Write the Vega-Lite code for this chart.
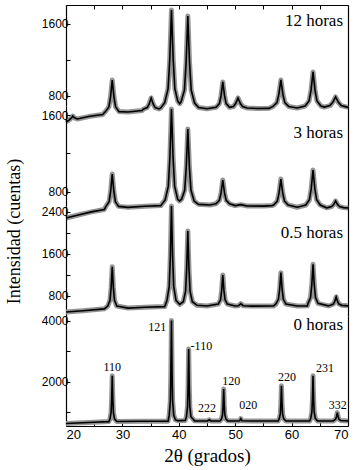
{
"$schema": "https://vega.github.io/schema/vega-lite/v6.json",
"padding": {"left": 4, "top": 4, "right": 2, "bottom": 2},
"bounds": "flush",
"spacing": 0,
"background": "white",
"config": {"view": {"stroke": null}, "axis": {"domainColor": "black", "domainWidth": 1.2, "tickColor": "black", "labelColor": "black", "labelFont": "Liberation Sans", "labelFontSize": 12, "grid": false, "titleFont": "Liberation Serif", "titleFontWeight": "normal", "titleColor": "black"}},
"datasets": {
"xrd": [
{"p":"12","x":20,"y":512},{"p":"12","x":20.6,"y":535},{"p":"12","x":21.0,"y":560},{"p":"12","x":21.2,"y":578},{"p":"12","x":21.5,"y":558},{"p":"12","x":22.0,"y":545},{"p":"12","x":24,"y":572},{"p":"12","x":26.5,"y":595},{"p":"12","x":27.0,"y":627},{"p":"12","x":27.6,"y":679},{"p":"12","x":27.9,"y":791},{"p":"12","x":28.2,"y":977},{"p":"12","x":28.5,"y":791},{"p":"12","x":28.8,"y":679},{"p":"12","x":29.4,"y":627},{"p":"12","x":31,"y":622},{"p":"12","x":33.5,"y":638},{"p":"12","x":33.7,"y":653},{"p":"12","x":34.4,"y":672},{"p":"12","x":34.75,"y":712},{"p":"12","x":35.1,"y":778},{"p":"12","x":35.45,"y":712},{"p":"12","x":35.8,"y":672},{"p":"12","x":36.5,"y":656},{"p":"12","x":36.8,"y":668},{"p":"12","x":37.5,"y":725},{"p":"12","x":38.1,"y":882},{"p":"12","x":38.4,"y":1208},{"p":"12","x":38.7,"y":1752},{"p":"12","x":39.0,"y":1208},{"p":"12","x":39.3,"y":882},{"p":"12","x":39.8,"y":745},{"p":"12","x":40.15,"y":715},{"p":"12","x":40.4,"y":735},{"p":"12","x":41.0,"y":865},{"p":"12","x":41.3,"y":1173},{"p":"12","x":41.6,"y":1686},{"p":"12","x":41.9,"y":1173},{"p":"12","x":42.2,"y":865},{"p":"12","x":42.8,"y":722},{"p":"12","x":43.5,"y":672},{"p":"12","x":45,"y":658},{"p":"12","x":46.6,"y":674},{"p":"12","x":47.2,"y":716},{"p":"12","x":47.5,"y":806},{"p":"12","x":47.8,"y":955},{"p":"12","x":48.1,"y":806},{"p":"12","x":48.4,"y":716},{"p":"12","x":49.0,"y":674},{"p":"12","x":49.7,"y":684},{"p":"12","x":50.1,"y":719},{"p":"12","x":50.5,"y":778},{"p":"12","x":50.9,"y":719},{"p":"12","x":51.3,"y":684},{"p":"12","x":52.1,"y":667},{"p":"12","x":54,"y":662},{"p":"12","x":56,"y":663},{"p":"12","x":56.7,"y":684},{"p":"12","x":57.4,"y":727},{"p":"12","x":57.75,"y":821},{"p":"12","x":58.1,"y":977},{"p":"12","x":58.45,"y":821},{"p":"12","x":58.8,"y":727},{"p":"12","x":59.5,"y":684},{"p":"12","x":61,"y":667},{"p":"12","x":62.4,"y":689},{"p":"12","x":63.1,"y":745},{"p":"12","x":63.45,"y":865},{"p":"12","x":63.8,"y":1066},{"p":"12","x":64.15,"y":865},{"p":"12","x":64.5,"y":745},{"p":"12","x":65.2,"y":689},{"p":"12","x":65.8,"y":677},{"p":"12","x":66.8,"y":694},{"p":"12","x":67.3,"y":730},{"p":"12","x":67.8,"y":789},{"p":"12","x":68.3,"y":730},{"p":"12","x":68.8,"y":694},{"p":"12","x":69.8,"y":677},{"p":"12","x":70,"y":678},
{"p":"3","x":20,"y":526},{"p":"3","x":22,"y":555},{"p":"3","x":24.5,"y":590},{"p":"3","x":26.8,"y":615},{"p":"3","x":27.08,"y":647},{"p":"3","x":27.64,"y":697},{"p":"3","x":27.92,"y":805},{"p":"3","x":28.2,"y":985},{"p":"3","x":28.48,"y":805},{"p":"3","x":28.76,"y":697},{"p":"3","x":29.32,"y":647},{"p":"3","x":31,"y":637},{"p":"3","x":34,"y":648},{"p":"3","x":36.8,"y":655},{"p":"3","x":37.58,"y":715},{"p":"3","x":38.14,"y":857},{"p":"3","x":38.42,"y":1159},{"p":"3","x":38.7,"y":1663},{"p":"3","x":38.98,"y":1159},{"p":"3","x":39.26,"y":857},{"p":"3","x":39.8,"y":720},{"p":"3","x":40.15,"y":703},{"p":"3","x":40.5,"y":722},{"p":"3","x":41.04,"y":815},{"p":"3","x":41.32,"y":1055},{"p":"3","x":41.6,"y":1454},{"p":"3","x":41.88,"y":1055},{"p":"3","x":42.16,"y":815},{"p":"3","x":42.72,"y":703},{"p":"3","x":43.5,"y":668},{"p":"3","x":45.5,"y":661},{"p":"3","x":46.6,"y":674},{"p":"3","x":47.2,"y":711},{"p":"3","x":47.5,"y":790},{"p":"3","x":47.8,"y":922},{"p":"3","x":48.1,"y":790},{"p":"3","x":48.4,"y":711},{"p":"3","x":49.0,"y":674},{"p":"3","x":50,"y":655},{"p":"3","x":51,"y":665},{"p":"3","x":52,"y":652},{"p":"3","x":55,"y":650},{"p":"3","x":56.5,"y":655},{"p":"3","x":56.82,"y":662},{"p":"3","x":57.46,"y":702},{"p":"3","x":57.78,"y":788},{"p":"3","x":58.1,"y":932},{"p":"3","x":58.42,"y":788},{"p":"3","x":58.74,"y":702},{"p":"3","x":59.38,"y":662},{"p":"3","x":61,"y":638},{"p":"3","x":62.52,"y":661},{"p":"3","x":63.16,"y":716},{"p":"3","x":63.48,"y":832},{"p":"3","x":63.8,"y":1026},{"p":"3","x":64.12,"y":832},{"p":"3","x":64.44,"y":716},{"p":"3","x":65.08,"y":661},{"p":"3","x":66.2,"y":632},{"p":"3","x":66.4,"y":634},{"p":"3","x":67.1,"y":645},{"p":"3","x":67.45,"y":666},{"p":"3","x":67.8,"y":703},{"p":"3","x":68.15,"y":666},{"p":"3","x":68.5,"y":645},{"p":"3","x":69.2,"y":634},{"p":"3","x":70,"y":630},
{"p":"0.5","x":20,"y":495},{"p":"0.5","x":23,"y":520},{"p":"0.5","x":26.8,"y":555},{"p":"0.5","x":27.4,"y":608},{"p":"0.5","x":27.8,"y":720},{"p":"0.5","x":28.0,"y":959},{"p":"0.5","x":28.2,"y":1358},{"p":"0.5","x":28.4,"y":959},{"p":"0.5","x":28.6,"y":720},{"p":"0.5","x":29.0,"y":608},{"p":"0.5","x":31,"y":570},{"p":"0.5","x":34,"y":585},{"p":"0.5","x":37.5,"y":598},{"p":"0.5","x":37.9,"y":715},{"p":"0.5","x":38.3,"y":983},{"p":"0.5","x":38.5,"y":1558},{"p":"0.5","x":38.7,"y":2515},{"p":"0.5","x":38.9,"y":1558},{"p":"0.5","x":39.1,"y":983},{"p":"0.5","x":39.5,"y":715},{"p":"0.5","x":40.15,"y":640},{"p":"0.5","x":40.8,"y":691},{"p":"0.5","x":41.2,"y":892},{"p":"0.5","x":41.4,"y":1322},{"p":"0.5","x":41.6,"y":2038},{"p":"0.5","x":41.8,"y":1322},{"p":"0.5","x":42.0,"y":892},{"p":"0.5","x":42.4,"y":691},{"p":"0.5","x":43.2,"y":625},{"p":"0.5","x":45,"y":610},{"p":"0.5","x":47.0,"y":645},{"p":"0.5","x":47.4,"y":728},{"p":"0.5","x":47.6,"y":905},{"p":"0.5","x":47.8,"y":1200},{"p":"0.5","x":48.0,"y":905},{"p":"0.5","x":48.2,"y":728},{"p":"0.5","x":48.6,"y":645},{"p":"0.5","x":50,"y":610},{"p":"0.5","x":50.6,"y":615},{"p":"0.5","x":51.0,"y":653},{"p":"0.5","x":51.4,"y":615},{"p":"0.5","x":53,"y":608},{"p":"0.5","x":56.8,"y":610},{"p":"0.5","x":57.22,"y":648},{"p":"0.5","x":57.66,"y":737},{"p":"0.5","x":57.88,"y":927},{"p":"0.5","x":58.1,"y":1244},{"p":"0.5","x":58.32,"y":927},{"p":"0.5","x":58.54,"y":737},{"p":"0.5","x":58.98,"y":648},{"p":"0.5","x":61,"y":610},{"p":"0.5","x":62.8,"y":612},{"p":"0.5","x":62.92,"y":660},{"p":"0.5","x":63.36,"y":770},{"p":"0.5","x":63.58,"y":1008},{"p":"0.5","x":63.8,"y":1404},{"p":"0.5","x":64.02,"y":1008},{"p":"0.5","x":64.24,"y":770},{"p":"0.5","x":64.68,"y":660},{"p":"0.5","x":66.5,"y":612},{"p":"0.5","x":66.9,"y":622},{"p":"0.5","x":67.4,"y":646},{"p":"0.5","x":67.65,"y":696},{"p":"0.5","x":67.9,"y":781},{"p":"0.5","x":68.15,"y":696},{"p":"0.5","x":68.4,"y":646},{"p":"0.5","x":68.9,"y":622},{"p":"0.5","x":70,"y":612},
{"p":"0","x":20,"y":640},{"p":"0","x":25,"y":680},{"p":"0","x":27.6,"y":700},{"p":"0","x":27.8,"y":790},{"p":"0","x":28.0,"y":999},{"p":"0","x":28.1,"y":1449},{"p":"0","x":28.2,"y":2197},{"p":"0","x":28.3,"y":1449},{"p":"0","x":28.4,"y":999},{"p":"0","x":28.6,"y":790},{"p":"0","x":29.0,"y":705},{"p":"0","x":33,"y":710},{"p":"0","x":38.1,"y":715},{"p":"0","x":38.3,"y":912},{"p":"0","x":38.5,"y":1372},{"p":"0","x":38.6,"y":2358},{"p":"0","x":38.7,"y":4001},{"p":"0","x":38.8,"y":2358},{"p":"0","x":38.9,"y":1372},{"p":"0","x":39.1,"y":912},{"p":"0","x":39.4,"y":760},{"p":"0","x":39.8,"y":730},{"p":"0","x":41.15,"y":740},{"p":"0","x":41.35,"y":861},{"p":"0","x":41.55,"y":1191},{"p":"0","x":41.65,"y":1897},{"p":"0","x":41.75,"y":3073},{"p":"0","x":41.85,"y":1897},{"p":"0","x":41.95,"y":1191},{"p":"0","x":42.15,"y":861},{"p":"0","x":42.8,"y":725},{"p":"0","x":45.1,"y":722},{"p":"0","x":45.4,"y":760},{"p":"0","x":45.7,"y":722},{"p":"0","x":47.3,"y":722},{"p":"0","x":47.56,"y":782},{"p":"0","x":47.76,"y":928},{"p":"0","x":47.86,"y":1240},{"p":"0","x":47.96,"y":1761},{"p":"0","x":48.06,"y":1240},{"p":"0","x":48.16,"y":928},{"p":"0","x":48.36,"y":782},{"p":"0","x":48.7,"y":725},{"p":"0","x":50.5,"y":720},{"p":"0","x":50.8,"y":730},{"p":"0","x":51.0,"y":796},{"p":"0","x":51.2,"y":730},{"p":"0","x":53,"y":720},{"p":"0","x":57.6,"y":720},{"p":"0","x":57.8,"y":789},{"p":"0","x":58.0,"y":950},{"p":"0","x":58.1,"y":1295},{"p":"0","x":58.2,"y":1869},{"p":"0","x":58.3,"y":1295},{"p":"0","x":58.4,"y":950},{"p":"0","x":58.6,"y":789},{"p":"0","x":59.0,"y":722},{"p":"0","x":63.2,"y":720},{"p":"0","x":63.4,"y":809},{"p":"0","x":63.6,"y":1015},{"p":"0","x":63.7,"y":1459},{"p":"0","x":63.8,"y":2197},{"p":"0","x":63.9,"y":1459},{"p":"0","x":64.0,"y":1015},{"p":"0","x":64.2,"y":809},{"p":"0","x":64.6,"y":722},{"p":"0","x":67.4,"y":722},{"p":"0","x":67.5,"y":738},{"p":"0","x":67.8,"y":776},{"p":"0","x":67.95,"y":858},{"p":"0","x":68.1,"y":993},{"p":"0","x":68.25,"y":858},{"p":"0","x":68.4,"y":776},{"p":"0","x":68.7,"y":738},{"p":"0","x":70,"y":722}
],
"panel": [
{"p":"12","x":70,"y":1630,"t":"12 horas"},{"p":"3","x":70,"y":1415,"t":"3 horas"},{"p":"0.5","x":70,"y":2000,"t":"0.5 horas"},{"p":"0","x":70,"y":3861,"t":"0 horas"}
],
"hkl": [
{"x":28.2,"y":2492,"t":"110"},{"x":36.2,"y":3781,"t":"121"},{"x":44.0,"y":3181,"t":"-110"},{"x":45.0,"y":1157,"t":"222"},{"x":49.3,"y":2033,"t":"120"},{"x":52.3,"y":1246,"t":"020"},{"x":59.2,"y":2164,"t":"220"},{"x":65.9,"y":2449,"t":"231"},{"x":68.2,"y":1236,"t":"332"}
]
},
"vconcat": [
{
"width": 282, "height": 101,
"resolve": {"axis": {"y": "independent"}},
"layer": [
{"data": {"name": "xrd"}, "transform": [{"filter": "datum.p == '12'"}],
 "mark": {"type": "line", "color": "#959595", "strokeWidth": 5, "strokeJoin": "round", "clip": false},
 "encoding": {
  "x": {"field": "x", "type": "quantitative", "scale": {"domain": [20, 70], "nice": false}, "axis": {"orient": "top", "values": [20,25,30,35,40,45,50,55,60,65,70], "labels": false, "tickSize": -4, "title": null}},
  "y": {"field": "y", "type": "quantitative", "scale": {"domain": [689, 1807], "nice": false, "zero": false}, "axis": {"orient": "left", "values": [800, 1200, 1600], "format": "d", "labelExpr": "datum.value == 1200 ? '' : datum.label", "tickSize": -4, "labelPadding": 2, "title": null}}
 }},
{"data": {"name": "xrd"}, "transform": [{"filter": "datum.p == '12'"}],
 "mark": {"type": "line", "color": "#000000", "strokeWidth": 1.6, "clip": false},
 "encoding": {
  "x": {"field": "x", "type": "quantitative", "axis": {"orient": "top", "values": [20,25,30,35,40,45,50,55,60,65,70], "labels": false, "tickSize": -4, "title": null}},
  "y": {"field": "y", "type": "quantitative", "axis": {"orient": "right", "labels": false, "ticks": false, "title": null}}
 }},
{"data": {"name": "panel"}, "transform": [{"filter": "datum.p == '12'"}],
 "mark": {"type": "text", "align": "right", "dx": -5, "font": "Liberation Serif", "fontSize": 17, "color": "#000000"},
 "encoding": {
  "x": {"field": "x", "type": "quantitative", "axis": {"orient": "top", "values": [20,25,30,35,40,45,50,55,60,65,70], "labels": false, "tickSize": -4, "title": null}},
  "y": {"field": "y", "type": "quantitative", "axis": null},
  "text": {"field": "t"}
 }}
]
},
{
"width": 282, "height": 100,
"resolve": {"axis": {"y": "independent"}},
"layer": [
{"data": {"name": "xrd"}, "transform": [{"filter": "datum.p == '3'"}],
 "mark": {"type": "line", "color": "#959595", "strokeWidth": 5, "strokeJoin": "round", "clip": false},
 "encoding": {
  "x": {"field": "x", "type": "quantitative", "scale": {"domain": [20, 70], "nice": false}, "axis": null},
  "y": {"field": "y", "type": "quantitative", "scale": {"domain": [651, 1694], "nice": false, "zero": false}, "axis": {"orient": "left", "values": [800, 1200, 1600], "format": "d", "labelExpr": "datum.value == 1200 ? '' : datum.label", "tickSize": -4, "labelPadding": 2, "title": null}}
 }},
{"data": {"name": "xrd"}, "transform": [{"filter": "datum.p == '3'"}],
 "mark": {"type": "line", "color": "#000000", "strokeWidth": 1.6, "clip": false},
 "encoding": {
  "x": {"field": "x", "type": "quantitative", "axis": null},
  "y": {"field": "y", "type": "quantitative", "axis": {"orient": "right", "labels": false, "ticks": false, "title": null}}
 }},
{"data": {"name": "panel"}, "transform": [{"filter": "datum.p == '3'"}],
 "mark": {"type": "text", "align": "right", "dx": -5, "font": "Liberation Serif", "fontSize": 17, "color": "#000000"},
 "encoding": {
  "x": {"field": "x", "type": "quantitative", "axis": null},
  "y": {"field": "y", "type": "quantitative", "axis": null},
  "text": {"field": "t"}
 }}
]
},
{
"width": 282, "height": 110,
"resolve": {"axis": {"y": "independent"}},
"layer": [
{"data": {"name": "xrd"}, "transform": [{"filter": "datum.p == '0.5'"}],
 "mark": {"type": "line", "color": "#959595", "strokeWidth": 5, "strokeJoin": "round", "clip": false},
 "encoding": {
  "x": {"field": "x", "type": "quantitative", "scale": {"domain": [20, 70], "nice": false}, "axis": null},
  "y": {"field": "y", "type": "quantitative", "scale": {"domain": [419, 2514], "nice": false, "zero": false}, "axis": {"orient": "left", "values": [800, 1200, 1600, 2000, 2400], "format": "d", "labelExpr": "datum.value == 1200 || datum.value == 2000 ? '' : datum.label", "tickSize": -4, "labelPadding": 2, "title": "Intensidad (cuentas)", "titleFontSize": 18, "titleX": -52, "titleY": 25, "titleBaseline": "middle"}}
 }},
{"data": {"name": "xrd"}, "transform": [{"filter": "datum.p == '0.5'"}],
 "mark": {"type": "line", "color": "#000000", "strokeWidth": 1.6, "clip": false},
 "encoding": {
  "x": {"field": "x", "type": "quantitative", "axis": null},
  "y": {"field": "y", "type": "quantitative", "axis": {"orient": "right", "labels": false, "ticks": false, "title": null}}
 }},
{"data": {"name": "panel"}, "transform": [{"filter": "datum.p == '0.5'"}],
 "mark": {"type": "text", "align": "right", "dx": -5, "font": "Liberation Serif", "fontSize": 17, "color": "#000000"},
 "encoding": {
  "x": {"field": "x", "type": "quantitative", "axis": null},
  "y": {"field": "y", "type": "quantitative", "axis": null},
  "text": {"field": "t"}
 }}
]
},
{
"width": 282, "height": 110,
"resolve": {"axis": {"y": "independent"}},
"layer": [
{"data": {"name": "xrd"}, "transform": [{"filter": "datum.p == '0'"}],
 "mark": {"type": "line", "color": "#959595", "strokeWidth": 5, "strokeJoin": "round", "clip": false},
 "encoding": {
  "x": {"field": "x", "type": "quantitative", "scale": {"domain": [20, 70], "nice": false}, "axis": {"orient": "bottom", "values": [20,25,30,35,40,45,50,55,60,65,70], "format": "d", "labelExpr": "datum.value % 10 == 0 ? datum.label : ''", "tickSize": -4, "labelPadding": 6, "labelFontSize": 13, "title": "2θ (grados)", "titleFontSize": 19, "titlePadding": 5}},
  "y": {"field": "y", "type": "quantitative", "scale": {"domain": [557, 4148], "nice": false, "zero": false}, "axis": {"orient": "left", "values": [1000, 2000, 3000, 4000], "format": "d", "labelExpr": "datum.value == 1000 || datum.value == 3000 ? '' : datum.label", "tickSize": -4, "labelPadding": 2, "title": null}}
 }},
{"data": {"name": "xrd"}, "transform": [{"filter": "datum.p == '0'"}],
 "mark": {"type": "line", "color": "#000000", "strokeWidth": 1.6, "clip": false},
 "encoding": {
  "x": {"field": "x", "type": "quantitative", "axis": {"orient": "bottom", "values": [20,25,30,35,40,45,50,55,60,65,70], "format": "d", "labelExpr": "datum.value % 10 == 0 ? datum.label : ''", "tickSize": -4, "labelPadding": 6, "labelFontSize": 13, "title": "2θ (grados)", "titleFontSize": 19, "titlePadding": 5}},
  "y": {"field": "y", "type": "quantitative", "axis": {"orient": "right", "labels": false, "ticks": false, "title": null}}
 }},
{"data": {"name": "panel"}, "transform": [{"filter": "datum.p == '0'"}],
 "mark": {"type": "text", "align": "right", "dx": -5, "font": "Liberation Serif", "fontSize": 17, "color": "#000000"},
 "encoding": {
  "x": {"field": "x", "type": "quantitative", "axis": {"orient": "bottom", "values": [20,25,30,35,40,45,50,55,60,65,70], "format": "d", "labelExpr": "datum.value % 10 == 0 ? datum.label : ''", "tickSize": -4, "labelPadding": 6, "labelFontSize": 13, "title": "2θ (grados)", "titleFontSize": 19, "titlePadding": 5}},
  "y": {"field": "y", "type": "quantitative", "axis": null},
  "text": {"field": "t"}
 }},
{"data": {"name": "hkl"},
 "mark": {"type": "text", "align": "center", "font": "Liberation Serif", "fontSize": 12, "color": "#000000"},
 "encoding": {
  "x": {"field": "x", "type": "quantitative", "axis": {"orient": "bottom", "values": [20,25,30,35,40,45,50,55,60,65,70], "format": "d", "labelExpr": "datum.value % 10 == 0 ? datum.label : ''", "tickSize": -4, "labelPadding": 6, "labelFontSize": 13, "title": "2θ (grados)", "titleFontSize": 19, "titlePadding": 5}},
  "y": {"field": "y", "type": "quantitative", "axis": null},
  "text": {"field": "t"}
 }}
]
}
]
}
